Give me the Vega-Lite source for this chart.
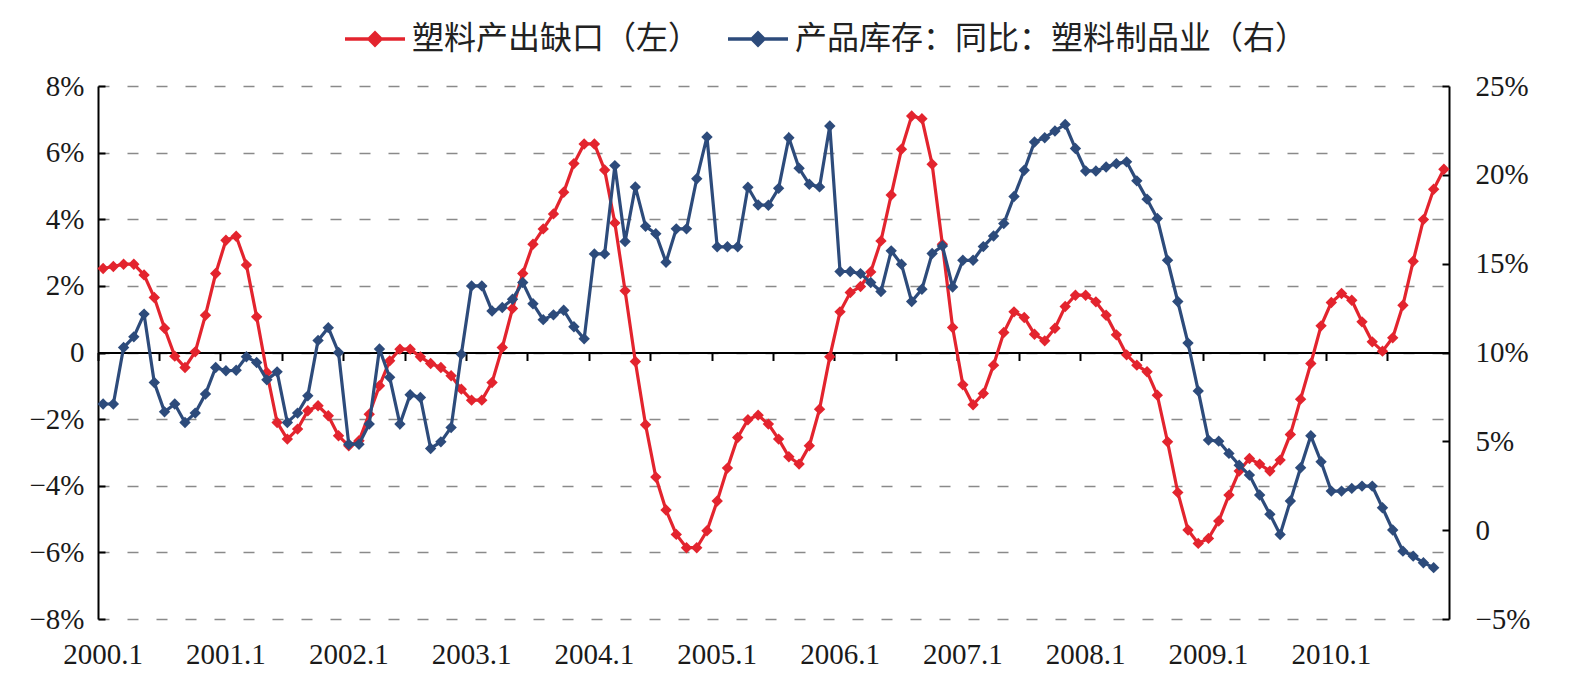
{
  "$schema": "https://vega.github.io/schema/vega-lite/v6.json",
  "autosize": "none",
  "width": 1351,
  "height": 533,
  "padding": {"left": 98, "top": 86, "right": 129, "bottom": 73},
  "background": "white",
  "config": {
    "view": {"stroke": null},
    "axis": {"labelFont": "Liberation Serif", "labelFontSize": 29, "labelColor": "#1a1a1a", "title": null}
  },
  "data": {
    "values": [
      {"m": "2000.1", "gap": 2.52, "inv": 7.1},
      {"m": "2000.2", "gap": 2.58, "inv": 7.1},
      {"m": "2000.3", "gap": 2.65, "inv": 10.28},
      {"m": "2000.4", "gap": 2.65, "inv": 10.88},
      {"m": "2000.5", "gap": 2.33, "inv": 12.16},
      {"m": "2000.6", "gap": 1.65, "inv": 8.31},
      {"m": "2000.7", "gap": 0.73, "inv": 6.66},
      {"m": "2000.8", "gap": -0.11, "inv": 7.1},
      {"m": "2000.9", "gap": -0.45, "inv": 6.06},
      {"m": "2000.10", "gap": 0.02, "inv": 6.59},
      {"m": "2000.11", "gap": 1.12, "inv": 7.66},
      {"m": "2000.12", "gap": 2.37, "inv": 9.16},
      {"m": "2001.1", "gap": 3.37, "inv": 8.97},
      {"m": "2001.2", "gap": 3.49, "inv": 9.0},
      {"m": "2001.3", "gap": 2.63, "inv": 9.76},
      {"m": "2001.4", "gap": 1.07, "inv": 9.44},
      {"m": "2001.5", "gap": -0.6, "inv": 8.46},
      {"m": "2001.6", "gap": -2.1, "inv": 8.91},
      {"m": "2001.7", "gap": -2.6, "inv": 6.06},
      {"m": "2001.8", "gap": -2.3, "inv": 6.59},
      {"m": "2001.9", "gap": -1.75, "inv": 7.56},
      {"m": "2001.10", "gap": -1.6, "inv": 10.68},
      {"m": "2001.11", "gap": -1.9, "inv": 11.4},
      {"m": "2001.12", "gap": -2.5, "inv": 10.0},
      {"m": "2002.1", "gap": -2.8, "inv": 4.84},
      {"m": "2002.2", "gap": -2.65, "inv": 4.84},
      {"m": "2002.3", "gap": -1.85, "inv": 5.97},
      {"m": "2002.4", "gap": -1.0, "inv": 10.2},
      {"m": "2002.5", "gap": -0.25, "inv": 8.6},
      {"m": "2002.6", "gap": 0.1, "inv": 5.97},
      {"m": "2002.7", "gap": 0.1, "inv": 7.62},
      {"m": "2002.8", "gap": -0.13, "inv": 7.47},
      {"m": "2002.9", "gap": -0.33, "inv": 4.6},
      {"m": "2002.10", "gap": -0.45, "inv": 4.97},
      {"m": "2002.11", "gap": -0.7, "inv": 5.78},
      {"m": "2002.12", "gap": -1.1, "inv": 9.9},
      {"m": "2003.1", "gap": -1.43, "inv": 13.75},
      {"m": "2003.2", "gap": -1.43, "inv": 13.75},
      {"m": "2003.3", "gap": -0.9, "inv": 12.34},
      {"m": "2003.4", "gap": 0.15, "inv": 12.53},
      {"m": "2003.5", "gap": 1.32, "inv": 13.0},
      {"m": "2003.6", "gap": 2.37, "inv": 13.94},
      {"m": "2003.7", "gap": 3.25, "inv": 12.74},
      {"m": "2003.8", "gap": 3.71, "inv": 11.85},
      {"m": "2003.9", "gap": 4.16, "inv": 12.12},
      {"m": "2003.10", "gap": 4.81, "inv": 12.38},
      {"m": "2003.11", "gap": 5.67, "inv": 11.45},
      {"m": "2003.12", "gap": 6.26, "inv": 10.77},
      {"m": "2004.1", "gap": 6.26, "inv": 15.55},
      {"m": "2004.2", "gap": 5.48, "inv": 15.55},
      {"m": "2004.3", "gap": 3.89, "inv": 20.52},
      {"m": "2004.4", "gap": 1.85, "inv": 16.25},
      {"m": "2004.5", "gap": -0.27, "inv": 19.32},
      {"m": "2004.6", "gap": -2.17, "inv": 17.1},
      {"m": "2004.7", "gap": -3.74, "inv": 16.69},
      {"m": "2004.8", "gap": -4.73, "inv": 15.08},
      {"m": "2004.9", "gap": -5.46, "inv": 16.96},
      {"m": "2004.10", "gap": -5.86, "inv": 16.96},
      {"m": "2004.11", "gap": -5.86, "inv": 19.78},
      {"m": "2004.12", "gap": -5.35, "inv": 22.13},
      {"m": "2005.1", "gap": -4.46, "inv": 15.95},
      {"m": "2005.2", "gap": -3.47, "inv": 15.95},
      {"m": "2005.3", "gap": -2.55, "inv": 15.95},
      {"m": "2005.4", "gap": -2.02, "inv": 19.3},
      {"m": "2005.5", "gap": -1.88, "inv": 18.3},
      {"m": "2005.6", "gap": -2.15, "inv": 18.29},
      {"m": "2005.7", "gap": -2.6, "inv": 19.24},
      {"m": "2005.8", "gap": -3.13, "inv": 22.09},
      {"m": "2005.9", "gap": -3.35, "inv": 20.37},
      {"m": "2005.10", "gap": -2.8, "inv": 19.47},
      {"m": "2005.11", "gap": -1.7, "inv": 19.32},
      {"m": "2005.12", "gap": -0.13, "inv": 22.75},
      {"m": "2006.1", "gap": 1.22, "inv": 14.56},
      {"m": "2006.2", "gap": 1.8, "inv": 14.56},
      {"m": "2006.3", "gap": 1.98, "inv": 14.44},
      {"m": "2006.4", "gap": 2.42, "inv": 13.94},
      {"m": "2006.5", "gap": 3.35, "inv": 13.43},
      {"m": "2006.6", "gap": 4.73, "inv": 15.72},
      {"m": "2006.7", "gap": 6.1, "inv": 14.97},
      {"m": "2006.8", "gap": 7.1, "inv": 12.87},
      {"m": "2006.9", "gap": 7.02, "inv": 13.56},
      {"m": "2006.10", "gap": 5.65, "inv": 15.57},
      {"m": "2006.11", "gap": 3.25, "inv": 16.0},
      {"m": "2006.12", "gap": 0.75, "inv": 13.69},
      {"m": "2007.1", "gap": -0.97, "inv": 15.19},
      {"m": "2007.2", "gap": -1.57, "inv": 15.19},
      {"m": "2007.3", "gap": -1.23, "inv": 15.96},
      {"m": "2007.4", "gap": -0.38, "inv": 16.56},
      {"m": "2007.5", "gap": 0.6, "inv": 17.26},
      {"m": "2007.6", "gap": 1.22, "inv": 18.78},
      {"m": "2007.7", "gap": 1.05, "inv": 20.26},
      {"m": "2007.8", "gap": 0.55, "inv": 21.85},
      {"m": "2007.9", "gap": 0.35, "inv": 22.09},
      {"m": "2007.10", "gap": 0.73, "inv": 22.47},
      {"m": "2007.11", "gap": 1.38, "inv": 22.84},
      {"m": "2007.12", "gap": 1.72, "inv": 21.48},
      {"m": "2008.1", "gap": 1.72, "inv": 20.22},
      {"m": "2008.2", "gap": 1.52, "inv": 20.22},
      {"m": "2008.3", "gap": 1.12, "inv": 20.44},
      {"m": "2008.4", "gap": 0.53, "inv": 20.63},
      {"m": "2008.5", "gap": -0.07, "inv": 20.73},
      {"m": "2008.6", "gap": -0.38, "inv": 19.66},
      {"m": "2008.7", "gap": -0.58, "inv": 18.63},
      {"m": "2008.8", "gap": -1.28, "inv": 17.54},
      {"m": "2008.9", "gap": -2.68, "inv": 15.19},
      {"m": "2008.10", "gap": -4.2, "inv": 12.87},
      {"m": "2008.11", "gap": -5.33, "inv": 10.53},
      {"m": "2008.12", "gap": -5.73, "inv": 7.84},
      {"m": "2009.1", "gap": -5.58, "inv": 5.07},
      {"m": "2009.2", "gap": -5.06, "inv": 5.01},
      {"m": "2009.3", "gap": -4.28, "inv": 4.32},
      {"m": "2009.4", "gap": -3.56, "inv": 3.66},
      {"m": "2009.5", "gap": -3.18, "inv": 3.1},
      {"m": "2009.6", "gap": -3.35, "inv": 1.98},
      {"m": "2009.7", "gap": -3.56, "inv": 0.89},
      {"m": "2009.8", "gap": -3.23, "inv": -0.24},
      {"m": "2009.9", "gap": -2.46, "inv": 1.64},
      {"m": "2009.10", "gap": -1.4, "inv": 3.51},
      {"m": "2009.11", "gap": -0.33, "inv": 5.31},
      {"m": "2009.12", "gap": 0.8, "inv": 3.85},
      {"m": "2010.1", "gap": 1.5, "inv": 2.2},
      {"m": "2010.2", "gap": 1.77, "inv": 2.2},
      {"m": "2010.3", "gap": 1.57, "inv": 2.35},
      {"m": "2010.4", "gap": 0.92, "inv": 2.48},
      {"m": "2010.5", "gap": 0.32, "inv": 2.48},
      {"m": "2010.6", "gap": 0.04, "inv": 1.26},
      {"m": "2010.7", "gap": 0.44, "inv": 0.01},
      {"m": "2010.8", "gap": 1.42, "inv": -1.18},
      {"m": "2010.9", "gap": 2.74, "inv": -1.46},
      {"m": "2010.10", "gap": 3.99, "inv": -1.83},
      {"m": "2010.11", "gap": 4.9, "inv": -2.11},
      {"m": "2010.12", "gap": 5.5, "inv": null}
    ]
  },
  "layer": [
    {
      "mark": {"type": "line", "strokeWidth": 3.2, "point": {"shape": "diamond", "filled": true, "size": 130}},
      "encoding": {
        "x": {
          "field": "m", "type": "ordinal", "sort": null,
          "scale": {"type": "band", "paddingInner": 0, "paddingOuter": 0},
          "axis": {
            "orient": "bottom", "offset": -266.5, "labels": false, "grid": false,
            "domain": true, "domainColor": "#000000", "domainWidth": 2,
            "ticks": true, "tickColor": "#000000", "tickWidth": 2, "tickSize": 8, "bandPosition": 0,
            "values": ["2000.1", "2000.7", "2001.1", "2001.7", "2002.1", "2002.7", "2003.1", "2003.7", "2004.1", "2004.7", "2005.1", "2005.7", "2006.1", "2006.7", "2007.1", "2007.7", "2008.1", "2008.7", "2009.1", "2009.7", "2010.1", "2010.7"]
          }
        },
        "y": {
          "field": "gap", "type": "quantitative",
          "scale": {"domain": [-8, 8], "nice": false, "zero": false},
          "axis": {
            "orient": "left", "values": [-8, -6, -4, -2, 0, 2, 4, 6, 8],
            "grid": true, "gridColor": "#8a8a8a", "gridWidth": 1.5, "gridDash": [11, 18],
            "domainColor": "#000000", "domainWidth": 2,
            "tickColor": "#000000", "tickWidth": 2, "tickSize": -7, "labelPadding": 21,
            "labelExpr": "datum.value == 0 ? '0' : format(datum.value, 'd') + '%'"
          }
        },
        "color": {
          "datum": "塑料产出缺口（左）",
          "scale": {"domain": ["塑料产出缺口（左）", "产品库存：同比：塑料制品业（右）"], "range": ["#e3242e", "#2d4b7b"]},
          "legend": {
            "orient": "none", "legendX": 245, "legendY": -79, "direction": "horizontal", "title": null,
            "padding": 0, "columnPadding": 20, "labelOffset": 5,
            "symbolType": "M-1,0L1,0M-0.2,0L0,-0.2L0.2,0L0,0.2Z", "symbolSize": 3600, "symbolStrokeWidth": 3.5,
            "labelFont": "Noto Sans CJK SC", "labelFontSize": 32, "labelColor": "#222222", "labelLimit": 800,
            "encode": {"symbols": {"update": {"fill": {"scale": "color", "field": "value"}, "stroke": {"scale": "color", "field": "value"}}}}
          }
        }
      }
    },
    {
      "mark": {"type": "line", "strokeWidth": 3.2, "point": {"shape": "diamond", "filled": true, "size": 130}},
      "encoding": {
        "x": {
          "field": "m", "type": "ordinal", "sort": null,
          "axis": {
            "orient": "bottom", "domain": false, "ticks": false, "grid": false,
            "labelAngle": 0, "labelAlign": "center", "labelBaseline": "top", "labelPadding": 21,
            "values": ["2000.1", "2001.1", "2002.1", "2003.1", "2004.1", "2005.1", "2006.1", "2007.1", "2008.1", "2009.1", "2010.1"]
          }
        },
        "y": {
          "field": "inv", "type": "quantitative",
          "scale": {"domain": [-5, 25], "nice": false, "zero": false},
          "axis": {
            "orient": "right", "values": [-5, 0, 5, 10, 15, 20, 25], "grid": false,
            "domainColor": "#000000", "domainWidth": 2,
            "tickColor": "#000000", "tickWidth": 2, "tickSize": -7, "labelPadding": 33,
            "labelExpr": "datum.value == 0 ? '0' : format(datum.value, 'd') + '%'"
          }
        },
        "color": {"datum": "产品库存：同比：塑料制品业（右）"}
      }
    }
  ],
  "resolve": {"scale": {"y": "independent"}, "axis": {"x": "independent", "y": "independent"}}
}
